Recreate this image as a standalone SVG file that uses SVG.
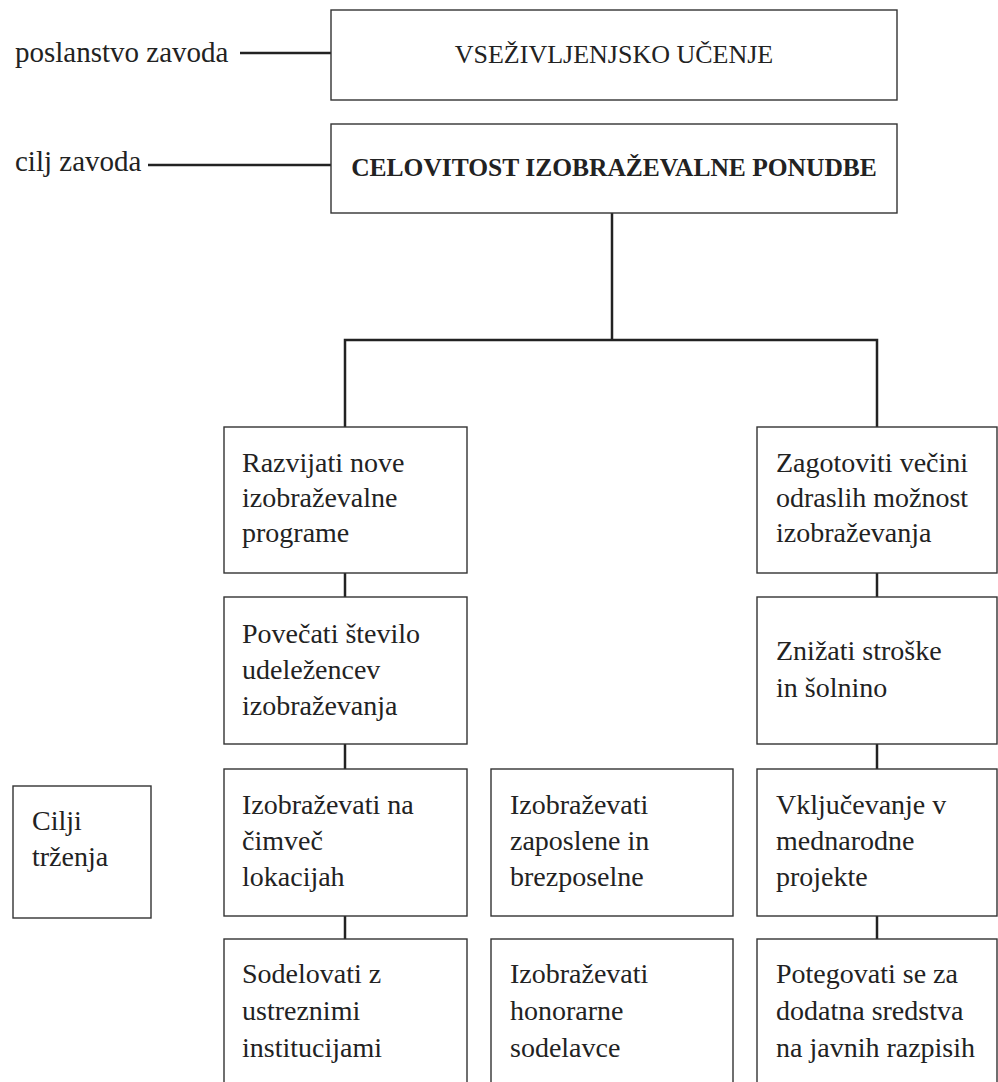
<svg xmlns="http://www.w3.org/2000/svg" width="998" height="1082" viewBox="0 0 998 1082">
<style>
  .box { fill: #ffffff; stroke: #333333; stroke-width: 1.4; }
  .conn { stroke: #222222; stroke-width: 2.5; fill: none; }
  text { font-family: "Liberation Serif", "DejaVu Serif", serif; font-size: 28px; fill: #222222; }
  .lbl { font-size: 29px; }
  .t1 { font-size: 26px; text-anchor: middle; }
  .t2 { font-size: 25.5px; font-weight: bold; text-anchor: middle; }
</style>
<rect width="998" height="1082" fill="#ffffff"/>
<g id="connectors">
  <line class="conn" x1="240" y1="53" x2="331" y2="53"/>
  <line class="conn" x1="148" y1="165" x2="331" y2="165"/>
  <polyline class="conn" points="612,213 612,340"/>
  <polyline class="conn" points="345,427 345,340 877,340 877,427"/>
  <line class="conn" x1="345" y1="573" x2="345" y2="598"/>
  <line class="conn" x1="345" y1="744" x2="345" y2="769"/>
  <line class="conn" x1="345" y1="916" x2="345" y2="939"/>
  <line class="conn" x1="877" y1="573" x2="877" y2="598"/>
  <line class="conn" x1="877" y1="744" x2="877" y2="769"/>
  <line class="conn" x1="877" y1="916" x2="877" y2="939"/>
</g>
<g id="label-poslanstvo"><text class="lbl" x="15" y="62">poslanstvo zavoda</text></g>
<g id="label-cilj"><text class="lbl" x="15" y="171">cilj zavoda</text></g>
<g id="n-vsezivljenjsko">
  <rect class="box" x="331" y="10" width="566" height="90"/>
  <text class="t1" x="614" y="63">VSEŽIVLJENJSKO UČENJE</text>
</g>
<g id="n-celovitost">
  <rect class="box" x="331" y="124" width="566" height="89"/>
  <text class="t2" x="614" y="176">CELOVITOST IZOBRAŽEVALNE PONUDBE</text>
</g>
<g id="n-razvijati">
  <rect class="box" x="224" y="427" width="243" height="146"/>
  <text x="242" y="472">Razvijati nove</text>
  <text x="242" y="507">izobraževalne</text>
  <text x="242" y="542">programe</text>
</g>
<g id="n-povecati">
  <rect class="box" x="224" y="597" width="243" height="147"/>
  <text x="242" y="643">Povečati število</text>
  <text x="242" y="679">udeležencev</text>
  <text x="242" y="715">izobraževanja</text>
</g>
<g id="n-izobrazevati-lokacije">
  <rect class="box" x="224" y="769" width="243" height="147"/>
  <text x="242" y="814">Izobraževati na</text>
  <text x="242" y="850">čimveč</text>
  <text x="242" y="886">lokacijah</text>
</g>
<g id="n-sodelovati">
  <rect class="box" x="224" y="939" width="243" height="160"/>
  <text x="242" y="983">Sodelovati z</text>
  <text x="242" y="1020">ustreznimi</text>
  <text x="242" y="1057">institucijami</text>
</g>
<g id="n-zaposlene">
  <rect class="box" x="491" y="769" width="242" height="147"/>
  <text x="510" y="814">Izobraževati</text>
  <text x="510" y="850">zaposlene in</text>
  <text x="510" y="886">brezposelne</text>
</g>
<g id="n-honorarne">
  <rect class="box" x="491" y="939" width="242" height="160"/>
  <text x="510" y="983">Izobraževati</text>
  <text x="510" y="1020">honorarne</text>
  <text x="510" y="1057">sodelavce</text>
</g>
<g id="n-zagotoviti">
  <rect class="box" x="757" y="427" width="240" height="146"/>
  <text x="776" y="472">Zagotoviti večini</text>
  <text x="776" y="507">odraslih možnost</text>
  <text x="776" y="542">izobraževanja</text>
</g>
<g id="n-znizati">
  <rect class="box" x="757" y="597" width="240" height="147"/>
  <text x="776" y="660">Znižati stroške</text>
  <text x="776" y="697">in šolnino</text>
</g>
<g id="n-vkljucevanje">
  <rect class="box" x="757" y="769" width="240" height="147"/>
  <text x="776" y="814">Vključevanje v</text>
  <text x="776" y="850">mednarodne</text>
  <text x="776" y="886">projekte</text>
</g>
<g id="n-potegovati">
  <rect class="box" x="757" y="939" width="240" height="160"/>
  <text x="776" y="983">Potegovati se za</text>
  <text x="776" y="1020">dodatna sredstva</text>
  <text x="776" y="1057">na javnih razpisih</text>
</g>
<g id="n-cilji-trzenja">
  <rect class="box" x="13" y="786" width="138" height="132"/>
  <text x="32" y="830">Cilji</text>
  <text x="32" y="866">trženja</text>
</g>
</svg>
